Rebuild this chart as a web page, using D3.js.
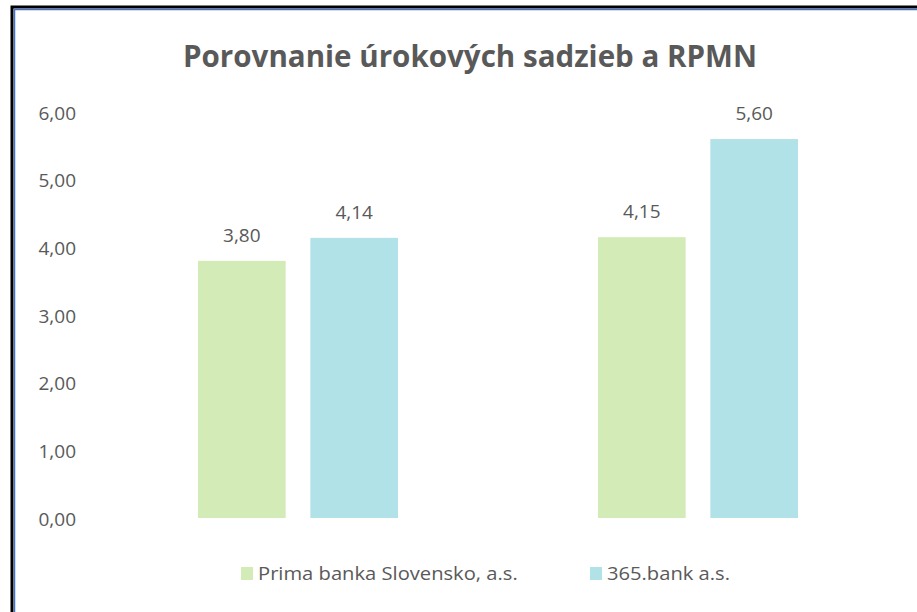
<!DOCTYPE html>
<html>
<head>
<meta charset="utf-8">
<script src="https://cdn.jsdelivr.net/npm/d3@7"></script>
<style>
  body { margin: 0; background: #fff; }
  svg { display: block; }
  text { font-family: "Open Sans", "Noto Sans", sans-serif; fill: #595959; }
</style>
</head>
<body>
<svg width="917" height="612"></svg>
<script>
// chart data
var groups = ["g1", "g2"];
var series = ["Prima banka Slovensko, a.s.", "365.bank a.s."];
var values = [
    [3.80, 4.14],
    [4.15, 5.60]
];
var yTicks = [0, 1, 2, 3, 4, 5, 6];
var colors = ["#d3ebb6", "#b0e2e7"];

var svg = d3.select("svg");

// frame, only left and top edges visible in the picture
svg.append("path")
    .attr("d", "M12,612 V7 H917")
    .attr("fill", "none")
    .attr("stroke", "#000")
    .attr("stroke-width", 3);
svg.append("path")
    .attr("d", "M14.5,612 V9.5 H917")
    .attr("fill", "none")
    .attr("stroke", "#4472c4")
    .attr("stroke-width", 1.5);

svg.append("text")
    .attr("x", 183)
    .attr("y", 67)
    .attr("textLength", 574)
    .attr("lengthAdjust", "spacingAndGlyphs")
    .style("font-size", "31px")
    .style("font-weight", "bold")
    .text("Porovnanie úrokových sadzieb a RPMN");

var y = d3.scaleLinear().domain([0, 6]).range([518, 112]);

var x0 = d3.scaleBand().domain(groups).range([98, 898])
    .paddingInner(0.5).paddingOuter(0.25);
var x1 = d3.scaleBand().domain(series).range([0, x0.bandwidth()])
    .paddingInner(0.22);

var fmt = function(v) { return d3.format(".2f")(v).replace(".", ","); };

// y axis labels only
var yAxis = d3.axisLeft(y).tickValues(yTicks).tickFormat(fmt).tickSize(0).tickPadding(0);
var ya = svg.append("g").attr("transform", "translate(76,1)").call(yAxis);
ya.select(".domain").remove();
ya.selectAll("text")
    .style("font-size", "19px")
    .style("font-family", null)
    .attr("fill", null);

var grp = svg.selectAll(".grp")
    .data(values)
    .enter().append("g")
    .attr("class", "grp")
    .attr("transform", (d, i) => "translate(" + x0(groups[i]) + ",0)");

grp.selectAll("rect")
    .data(d => d.map((v, j) => ({ v: v, s: series[j], j: j })))
    .enter().append("rect")
    .attr("x", d => x1(d.s))
    .attr("y", d => y(d.v))
    .attr("width", x1.bandwidth())
    .attr("height", d => y(0) - y(d.v))
    .attr("fill", d => colors[d.j]);

grp.selectAll(".lbl")
    .data(d => d.map((v, j) => ({ v: v, s: series[j] })))
    .enter().append("text")
    .attr("class", "lbl")
    .attr("x", d => x1(d.s) + x1.bandwidth() / 2)
    .attr("y", d => y(d.v) - 19)
    .attr("text-anchor", "middle")
    .style("font-size", "19px")
    .text(d => fmt(d.v));

// legend
var legendX = [241, 590];
var leg = svg.selectAll(".leg")
    .data(series)
    .enter().append("g")
    .attr("class", "leg")
    .attr("transform", (d, i) => "translate(" + legendX[i] + ",567)");
leg.append("rect")
    .attr("width", 12)
    .attr("height", 13)
    .attr("fill", (d, i) => colors[i]);
leg.append("text")
    .attr("transform", "translate(17,13) scale(1.12,1)")
    .style("font-size", "18px")
    .text(d => d);
</script>
</body>
</html>
